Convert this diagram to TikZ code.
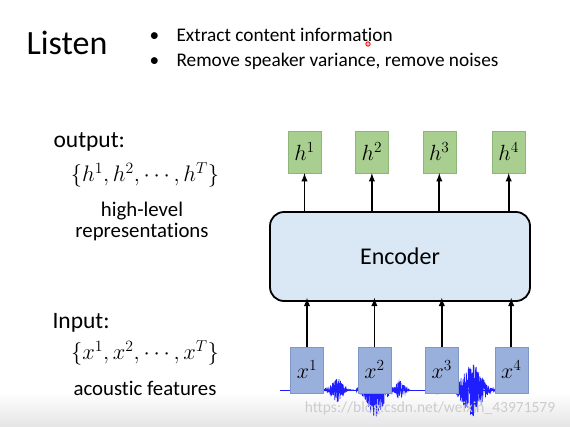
\RequirePackage{fix-cm}
\documentclass[tikz,border=0pt]{standalone}
\usepackage{fontspec}
\setmainfont{Carlito}[Ligatures=NoCommon]
\usetikzlibrary{positioning}
\definecolor{hgreen}{HTML}{A9CF90}
\definecolor{hgreenline}{HTML}{8DB779}
\definecolor{xblue}{HTML}{9AB0DC}
\definecolor{xblueline}{HTML}{7E97C9}
\definecolor{encblue}{HTML}{DAE8F6}
\definecolor{wavecol}{HTML}{1E1EFF}
\tikzset{
    hbox/.style={draw=hgreenline, fill=hgreen, minimum width=33pt, minimum height=42pt, inner sep=0pt, font=\fontsize{22}{22}\selectfont},
    xbox/.style={draw=xblueline, fill=xblue, minimum width=33pt, minimum height=46pt, inner sep=0pt, font=\fontsize{22}{22}\selectfont},
    arr/.style={-latex, line width=1.8pt},
    wave/.style={wavecol, line width=0.6pt},
    declare function={bump(\x,\c,\w)=exp(-((\x-\c)/\w)^2);}
}
\pgfmathsetseed{7}

\begin{document}
\begin{tikzpicture}[x=1pt, y=-1pt]
\useasboundingbox (0,0) rectangle (570,426);
\shade[top color=white, bottom color=black!10] (0,392) rectangle (570,426);

\node (title) [font=\fontsize{34}{34}\selectfont] at (67,43) {Listen};
\node (pt1) [anchor=base west, font=\fontsize{19.3}{19.3}\selectfont] at (146,41) {\makebox[27pt][l]{\textbullet}Extract content information};
\node (pt2) [anchor=base west, font=\fontsize{19.3}{19.3}\selectfont] at (146,66) {\makebox[27pt][l]{\textbullet}Remove speaker variance, remove noises};
\draw[red, line width=0.8pt, fill=red!25] (368,44) circle (2.2pt);

\node (outlab) [anchor=west, font=\fontsize{23.5}{23.5}\selectfont] at (50,142) {output:};
\node (outset) [font=\fontsize{22.5}{22.5}\selectfont] at (145,175) {$\{h^1,h^2,\cdots,h^T\}$};
\node (outdesc) [align=center, font=\fontsize{20.8}{21}\selectfont] at (142,221) {high-level\\representations};
\node (inlab) [anchor=west, font=\fontsize{23.5}{23.5}\selectfont] at (49,323) {Input:};
\node (inset) [font=\fontsize{22.5}{22.5}\selectfont] at (145,353) {$\{x^1,x^2,\cdots,x^T\}$};
\node (indesc) [font=\fontsize{20.8}{20.8}\selectfont] at (145,388) {acoustic features};

\draw[wave] (280,390) -- (500,390);
\draw[wave] plot[domain=322:354, samples=220] (\x,{390-12*bump(\x,337,7)*rand});
\draw[wave] plot[domain=356:396, samples=280] (\x,{390-27*bump(\x,375,11)*rand});
\draw[wave] plot[domain=392:410, samples=120] (\x,{390-10*bump(\x,400,5)*rand});
\draw[wave] plot[domain=428:446, samples=120] (\x,{390-4*bump(\x,437,4)*rand});
\draw[wave] plot[domain=452:500, samples=400] (\x,{390-27*bump(\x,472,12)*rand});

\node (enc) [draw, line width=1.8pt, rounded corners=14pt, fill=encblue, minimum width=260pt, minimum height=89pt, font=\fontsize{24}{24}\selectfont] at (400,256.5) {Encoder};

\node (h1) [hbox] at (304.5,152) {$h^1$};
\node (h2) [hbox, right=34pt of h1] {$h^2$};
\node (h3) [hbox, right=34pt of h2] {$h^3$};
\node (h4) [hbox, right=36pt of h3] {$h^4$};

\node (x1) [xbox] at (307,370) {$x^1$};
\node (x2) [xbox, right=34pt of x1] {$x^2$};
\node (x3) [xbox, right=34pt of x2] {$x^3$};
\node (x4) [xbox, right=36pt of x3] {$x^4$};

\draw[arr] (h1 |- enc.north) -- (h1.south);
\draw[arr] (h2 |- enc.north) -- (h2.south);
\draw[arr] (h3 |- enc.north) -- (h3.south);
\draw[arr] (h4 |- enc.north) -- (h4.south);
\draw[arr] (x1.north) -- ([yshift=4pt]x1 |- enc.south);
\draw[arr] (x2.north) -- ([yshift=4pt]x2 |- enc.south);
\draw[arr] (x3.north) -- ([yshift=4pt]x3 |- enc.south);
\draw[arr] (x4.north) -- ([yshift=4pt]x4 |- enc.south);

\node (mark) [text=black!20, font=\fontsize{15.5}{15.5}\selectfont] at (430,408) {https://blog.csdn.net/weixin\_43971579};
\end{tikzpicture}
\end{document}
